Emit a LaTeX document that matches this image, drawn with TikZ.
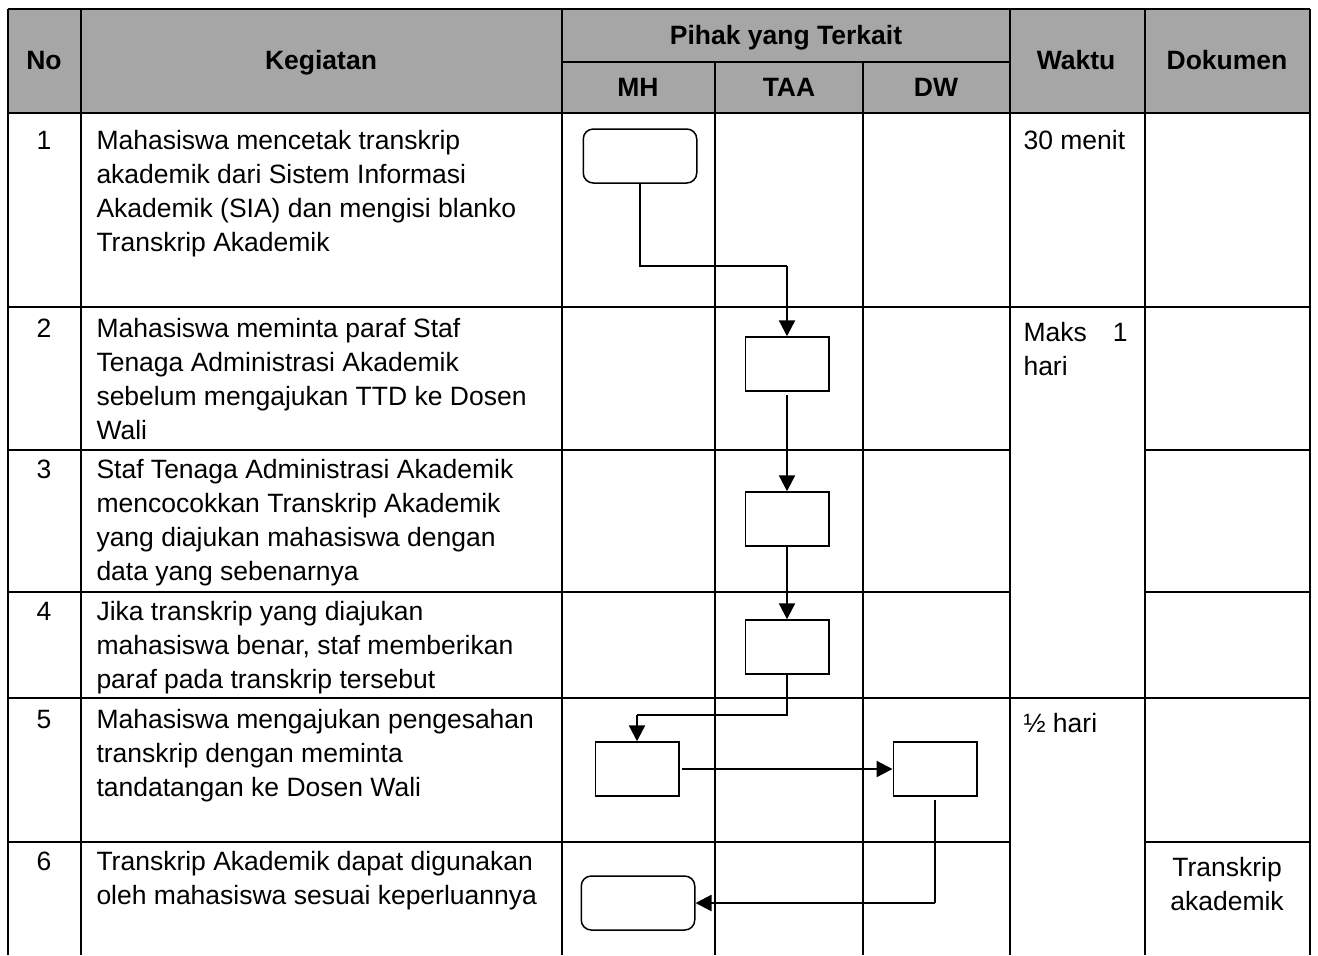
\documentclass[tikz,border=0pt]{standalone}
\usepackage{fontspec}
\setmainfont{Liberation Sans}
\usetikzlibrary{arrows.meta}
\definecolor{hdrgray}{RGB}{166,166,166}

\begin{document}
\begin{tikzpicture}[x=0.4pt, y=-0.4pt,
    every node/.style={font=\fontsize{10.6}{13.6}\selectfont, inner sep=0pt},
    hdr/.style={anchor=base, font=\fontsize{10.6}{13.6}\selectfont\bfseries},
    txt/.style={anchor=north west, align=left},
    num/.style={anchor=base},
    tblline/.style={line width=0.8pt},
    proc/.style={draw, line width=0.6pt, minimum width=33.4pt, minimum height=21.6pt},
    term/.style={proc, rounded corners=4pt, minimum width=45.4pt},
    link/.style={line width=0.5pt},
    flow/.style={line width=0.9pt, -{Triangle[length=6.4pt,width=6.4pt]}}]
        \useasboundingbox (0,0) rectangle (1318,955);
        % Header
        \fill[hdrgray] (8,9) rectangle (1310,113);
        \node[hdr] (hno) at (44,69) {No};
        \node[hdr] (hkeg) at (321,69) {Kegiatan};
        \node[hdr] (hpihak) at (786,44) {Pihak yang Terkait};
        \node[hdr] (hmh) at (638,96) {MH};
        \node[hdr] (htaa) at (789,96) {TAA};
        \node[hdr] (hdw) at (936,96) {DW};
        \node[hdr] (hwaktu) at (1076,69) {Waktu};
        \node[hdr] (hdok) at (1227,69) {Dokumen};
        % Table lines
        \draw[tblline] (8,9) -- (1310,9);
        \draw[tblline] (562,62) -- (1010,62);
        \draw[tblline] (8,113) -- (1310,113);
        \draw[tblline] (8,307) -- (1310,307);
        \draw[tblline] (8,698) -- (1310,698);
        \foreach \y in {450,592,842} {
            \draw[tblline] (8,\y) -- (1010,\y);
            \draw[tblline] (1145,\y) -- (1310,\y);
        }
        \foreach \x in {8,81,562,1010,1145,1310}
            \draw[tblline] (\x,9) -- (\x,955);
        \foreach \x in {715,863}
            \draw[tblline] (\x,62) -- (\x,955);
        % Row numbers
        \node[num] (n1) at (44,149) {1};
        \node[num] (n2) at (44,337) {2};
        \node[num] (n3) at (44,478) {3};
        \node[num] (n4) at (44,620) {4};
        \node[num] (n5) at (44,728) {5};
        \node[num] (n6) at (44,870) {6};
        % Kegiatan
        \node[txt] (k1) at (96,125.2) {\strut Mahasiswa mencetak transkrip\\akademik dari Sistem Informasi\\Akademik (SIA) dan mengisi blanko\\Transkrip Akademik};
        \node[txt] (k2) at (96,313.2) {\strut Mahasiswa meminta paraf Staf\\Tenaga Administrasi Akademik\\sebelum mengajukan TTD ke Dosen\\Wali};
        \node[txt] (k3) at (96,454.2) {\strut Staf Tenaga Administrasi Akademik\\mencocokkan Transkrip Akademik\\yang diajukan mahasiswa dengan\\data yang sebenarnya};
        \node[txt] (k4) at (96,596.2) {\strut Jika transkrip yang diajukan\\mahasiswa benar, staf memberikan\\paraf pada transkrip tersebut};
        \node[txt] (k5) at (96,704.2) {\strut Mahasiswa mengajukan pengesahan\\transkrip dengan meminta\\tandatangan ke Dosen Wali};
        \node[txt] (k6) at (96,846.2) {\strut Transkrip Akademik dapat digunakan\\oleh mahasiswa sesuai keperluannya};
        % Waktu and Dokumen
        \node[txt] (w1) at (1023,125.2) {\strut 30 menit};
        \node[txt, text width=41.6pt] (w2) at (1023,317.2) {\strut Maks\hfill 1\\hari};
        \node[txt] (w5) at (1023,708.2) {\strut ½ hari};
        \node[anchor=north, align=center] (d6) at (1227,852.2) {\strut Transkrip\\akademik};
        % Flow symbols
        \node[term] (mulai) at (640,156) {};
        \node[proc] (taa2) at (787,364) {};
        \node[proc] (taa3) at (787,519) {};
        \node[proc] (taa4) at (787,647) {};
        \node[proc] (mh5) at (637,769) {};
        \node[proc] (dw5) at (935,769) {};
        \node[term] (selesai) at (638,903) {};
        % Connectors
        \coordinate (t1) at (787,266);
        \coordinate (t2) at (637,715);
        \coordinate (t3) at (935,903);
        \draw[link] (mulai.south) |- (t1);
        \draw[flow] (t1) -- (taa2.north);
        \draw[flow, shorten <=1.2pt] (taa2) -- (taa3);
        \draw[flow] (taa3) -- (taa4);
        \draw[link] (taa4.south) |- (t2);
        \draw[flow] (t2) -- (mh5.north);
        \draw[flow, shorten <=1pt] (mh5) -- (dw5);
        \draw[link, shorten <=1.2pt] (dw5.south) -- (t3);
        \draw[flow] (t3) -- (selesai.east);
    \end{tikzpicture}
\end{document}
